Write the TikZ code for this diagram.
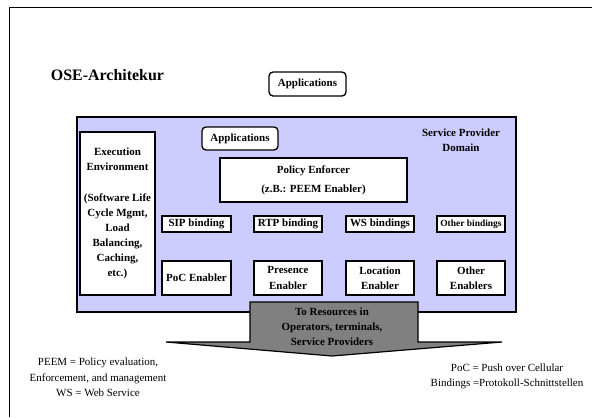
\documentclass[tikz,border=0pt]{standalone}
\usepackage{fontspec}
\setmainfont{Liberation Serif}
\definecolor{domainblue}{HTML}{CCCCFF}
\definecolor{arrowgray}{HTML}{808080}
\begin{document}
\begin{tikzpicture}[x=1bp,y=-1bp,
  box/.style={draw=black,line width=1.3bp,fill=white,inner sep=0pt,align=center,
    font=\bfseries\fontsize{11}{15.2}\selectfont},
  rbox/.style={box,rounded corners=4bp},
  txt/.style={inner sep=0pt,align=center,font=\fontsize{11}{15.5}\selectfont}]
\useasboundingbox (0,0) rectangle (592,417);
\draw[line width=1.5bp] (9.5,417) -- (9.5,7.5) -- (592,7.5);
% title
\node[inner sep=0pt,font=\bfseries\fontsize{16}{18}\selectfont] (title) at (107.5,75) {OSE-Architekur};
\node[rbox,minimum width=77bp,minimum height=24bp] (topapp) at (307.5,84) {Applications};
% domain
\node[draw=black,line width=1.3bp,fill=domainblue,minimum width=439bp,minimum height=195bp,inner sep=0pt] (domain) at (296.5,214.5) {};
\node[txt,font=\bfseries\fontsize{11}{14.7}\selectfont] (spd) at (461,140) {Service Provider\\Domain};
\node[box,minimum width=75bp,minimum height=163bp] (exec) at (117.5,213.5) {Execution\\Environment\\[15.2bp](Software Life\\Cycle Mgmt,\\Load\\Balancing,\\Caching,\\etc.)};
\node[rbox,minimum width=76bp,minimum height=23bp] (app) at (240,138.5) {Applications};
\node[box,minimum width=187bp,minimum height=44bp,font=\bfseries\fontsize{11}{19}\selectfont] (pe) at (313.5,180) {Policy Enforcer\\(z.B.: PEEM Enabler)};
% bindings
\node[box,minimum width=69bp,minimum height=16bp] (sip) at (196.5,224) {SIP binding};
\node[box,minimum width=68bp,minimum height=16bp] (rtp) at (288,224) {RTP binding};
\node[box,minimum width=68bp,minimum height=16bp] (ws) at (380,224) {WS bindings};
\node[box,minimum width=68bp,minimum height=16bp,font=\bfseries\fontsize{9.5}{11}\selectfont] (ob) at (471,224) {Other bindings};
% enablers
\node[box,minimum width=69bp,minimum height=34bp] (poc) at (196.5,278) {PoC Enabler};
\node[box,minimum width=68bp,minimum height=34bp,font=\bfseries\fontsize{11}{16}\selectfont] (pres) at (288,278) {Presence\\Enabler};
\node[box,minimum width=68bp,minimum height=34bp] (loc) at (380,278) {Location\\Enabler};
\node[box,minimum width=68bp,minimum height=34bp] (oe) at (471,278) {Other\\Enablers};
% arrow
\draw[line width=1.2bp,fill=arrowgray] (250,302) -- (418,302) -- (418,342) -- (502,342) -- (332,356) -- (166,342) -- (250,342) -- cycle;
\node[txt,font=\bfseries\fontsize{11}{15}\selectfont] (res) at (332,327) {To Resources in\\Operators, terminals,\\Service Providers};
% notes
\node[txt] (notel) at (98,377.5) {PEEM = Policy evaluation,\\Enforcement, and management\\WS = Web Service};
\node[txt] (noter) at (507,376.5) {PoC = Push over Cellular\\Bindings =Protokoll-Schnittstellen};
\end{tikzpicture}
\end{document}
